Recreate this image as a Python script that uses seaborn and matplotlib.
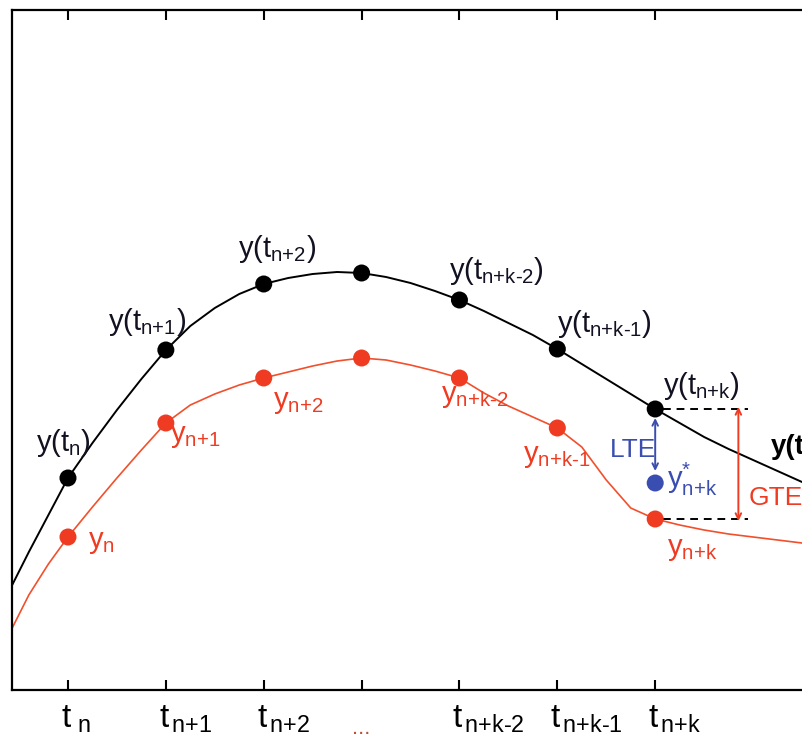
import matplotlib
matplotlib.use("Agg")
import matplotlib.pyplot as plt
import seaborn as sns

sns.set_style("white")
plt.rcParams["font.family"] = ["Liberation Sans", "DejaVu Sans"]
plt.rcParams["mathtext.fontset"] = "custom"
plt.rcParams["mathtext.rm"] = "Liberation Sans"
plt.rcParams["mathtext.it"] = "Liberation Sans:italic"
plt.rcParams["mathtext.bf"] = "Liberation Sans:bold"
plt.rcParams["mathtext.default"] = "regular"

# node positions (t index) and values
t_nodes = [0, 1, 2, 3, 4, 5, 6]
y_exact = [212, 340, 406, 417, 390, 341, 281]
y_num = [153, 267, 312, 332, 312, 262, 171]
y_star = 207

# exact solution curve
curve_t = [-0.57, -0.4, -0.2, 0, 0.25, 0.5, 0.75, 1, 1.25, 1.5, 1.75, 2,
           2.25, 2.5, 2.75, 3, 3.25, 3.5, 3.75, 4, 4.25, 4.5, 4.75, 5,
           5.25, 5.5, 5.75, 6, 6.25, 6.5, 6.75, 7, 7.25, 7.5]
curve_exact = [105, 138, 175, 212, 247, 280, 311, 340, 364, 382, 396, 406,
               412, 416, 418, 417, 413, 407, 399, 390, 379, 367, 355, 341,
               326, 311, 296, 281, 267, 253, 241, 230, 219, 208]

# numerical solution curve
num_t = [-0.57, -0.4, -0.2, 0, 0.25, 0.5, 0.75, 1, 1.25, 1.5, 1.75, 2,
         2.25, 2.5, 2.75, 3, 3.25, 3.5, 3.75, 4, 4.25, 4.5, 4.75, 5,
         5.25, 5.5, 5.75, 6, 6.25, 6.5, 6.75, 7, 7.25, 7.5]
curve_num = [62, 95, 126, 153, 183, 212, 240, 267, 285, 296, 305, 312,
             318, 324, 329, 332, 330, 325, 319, 312, 297, 284, 273, 262,
             243, 210, 182, 171, 165, 160, 156, 153, 150, 147]

tick_labels = [r"$t_{\ n}$", r"$t_{\,\text{n+1}}$", r"$t_{\,\text{n+2}}$", "...",
               r"$t_{\,\text{n+k-2}}$", r"$t_{\,\text{n+k-1}}$", r"$t_{\,\text{n+k}}$"]

exact_labels = [r"$y(t_{n})$", r"$y(t_{\text{n+1}})$", r"$y(t_{\text{n+2}})$", None,
                r"$y(t_{\text{n+k-2}})$", r"$y(t_{\text{n+k-1}})$", r"$y(t_{\text{n+k}})$"]
num_labels = [r"$y_{n}$", r"$y_{\text{n+1}}$", r"$y_{\text{n+2}}$", None,
              r"$y_{\text{n+k-2}}$", r"$y_{\text{n+k-1}}$", r"$y_{\text{n+k}}$"]
# label offsets in pixels (dx, dy)
exact_off = [(-32, 27), (-58, 20), (-26, 27), None, (-10, 21), (0, 17), (8, 15)]
num_off = [(20, -11), (4, -19), (9, -30), None, (-18, -24), (-34, -34), (12, -36)]

BLACK = "#000000"
RED = "#ee3b22"
RED_LINE = "#f2502c"
BLUE = "#3a4db0"

fig = plt.figure(figsize=(8.02, 7.40), dpi=100)
ax = fig.add_axes([12 / 802, 50 / 740, 790 / 802, 680 / 740])

sns.lineplot(x=curve_t, y=curve_exact, sort=False, estimator=None,
             color=BLACK, lw=1.4, ax=ax)
sns.lineplot(x=num_t, y=curve_num, sort=False, estimator=None,
             color=RED_LINE, lw=1.2, ax=ax)
sns.scatterplot(x=t_nodes, y=y_exact, color=BLACK, s=150, edgecolor="none", ax=ax, zorder=5)
sns.scatterplot(x=t_nodes, y=y_num, color=RED, s=150, edgecolor="none", ax=ax, zorder=5)
sns.scatterplot(x=[t_nodes[-1]], y=[y_star], color=BLUE, s=150, edgecolor="none", ax=ax, zorder=5)

for i in range(len(t_nodes)):
    if exact_labels[i]:
        ax.annotate(exact_labels[i], (t_nodes[i], y_exact[i]), xytext=exact_off[i],
                    textcoords="offset pixels", ha="left", va="baseline",
                    fontsize=21, color="#111122")
    if num_labels[i]:
        ax.annotate(num_labels[i], (t_nodes[i], y_num[i]), xytext=num_off[i],
                    textcoords="offset pixels", ha="left", va="baseline",
                    fontsize=21, color=RED)

ax.annotate(r"$y^{*}_{\text{n+k}}$", (t_nodes[-1], y_star), xytext=(12, -5),
            textcoords="offset pixels", ha="left", va="baseline",
            fontsize=21, color=BLUE)

# error markers
x_dash = [6.08, 6.95]
ax.plot(x_dash, [y_exact[-1]] * 2, color=BLACK, lw=1.4, ls=(0, (4, 3)))
ax.plot(x_dash, [y_num[-1]] * 2, color=BLACK, lw=1.4, ls=(0, (4, 3)))
ax.annotate("", xy=(6, y_exact[-1] - 9), xytext=(6, y_star + 12),
            arrowprops=dict(arrowstyle="<->", color=BLUE, lw=1.4,
                            shrinkA=0, shrinkB=0, mutation_scale=10))
ax.annotate("", xy=(6.85, y_exact[-1] + 2), xytext=(6.85, y_num[-1] - 2),
            arrowprops=dict(arrowstyle="<->", color=RED, lw=1.4,
                            shrinkA=0, shrinkB=0, mutation_scale=10))
ax.text(5.54, 240, "LTE", color=BLUE, fontsize=19, ha="left", va="center")
ax.text(6.95, 192, "GTE", color=RED, fontsize=19, ha="left", va="center")
ax.text(7.18, 243, "y(t)", color=BLACK, fontsize=20, fontweight="bold",
        ha="left", va="center", clip_on=False)

ax.set_xlim(-0.572, 7.5)
ax.set_ylim(0, 680)
ax.set_xticks(t_nodes)
ax.set_xticklabels([""] * len(t_nodes))
# tick labels drawn by hand so the "t" sits over its tick
for t, lab in zip(t_nodes, tick_labels):
    if lab == "...":
        ax.annotate(lab, (t, 0), xycoords=("data", "axes fraction"),
                    xytext=(0, -38), textcoords="offset pixels",
                    ha="center", va="center", fontsize=16, color="#c05030",
                    annotation_clip=False)
    else:
        ax.annotate(lab, (t, 0), xycoords=("data", "axes fraction"),
                    xytext=(-7, -14), textcoords="offset pixels",
                    ha="left", va="top", fontsize=24, color=BLACK,
                    annotation_clip=False)
ax.set_yticks([])
ax.tick_params(axis="x", direction="in", top=True, bottom=True, length=7,
               width=1.5, color=BLACK)
for side in ["left", "bottom", "top"]:
    ax.spines[side].set_color(BLACK)
    ax.spines[side].set_linewidth(1.6)
ax.spines["right"].set_visible(False)
ax.set_xlabel("")
ax.set_ylabel("")

fig.savefig("out.png", dpi=100)
